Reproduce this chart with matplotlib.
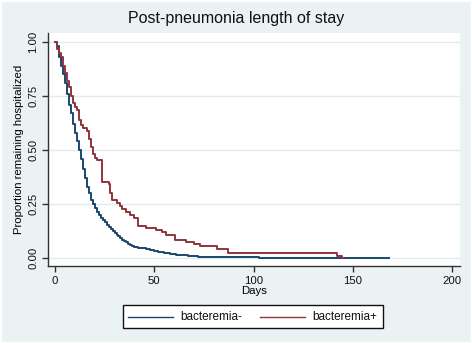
import matplotlib
matplotlib.use("Agg")
import matplotlib.pyplot as plt
from matplotlib.patches import Rectangle
from matplotlib.lines import Line2D

# Kaplan-Meier step data (day, survival)
neg_days = [0, 1, 2, 3, 4, 5, 6, 7, 8, 9, 10, 11, 12, 13, 14, 15, 16, 17, 18, 19,
            20, 21, 22, 23, 24, 25, 26, 27, 28, 29, 30, 31, 32, 33, 34, 35, 36, 37,
            38, 39, 40, 42, 44, 46, 48, 50, 52, 55, 58, 61, 64, 67, 72, 103, 168]
neg_surv = [1.0, 0.98, 0.93, 0.89, 0.85, 0.81, 0.76, 0.71, 0.67, 0.62, 0.58, 0.54,
            0.50, 0.46, 0.41, 0.37, 0.33, 0.30, 0.27, 0.25, 0.23, 0.215, 0.20, 0.185,
            0.175, 0.165, 0.155, 0.145, 0.135, 0.125, 0.115, 0.108, 0.10, 0.092,
            0.085, 0.078, 0.072, 0.066, 0.060, 0.056, 0.052, 0.048, 0.045, 0.040,
            0.036, 0.032, 0.028, 0.024, 0.020, 0.016, 0.012, 0.008, 0.005, 0.0, 0.0]

pos_days = [0, 1, 2, 3, 4, 5, 6, 7, 8, 9, 10, 11, 12, 13, 14, 16, 17, 18, 19, 20,
            21, 23.5, 27, 27.8, 28.6, 31, 32.8, 34, 36, 38, 40, 42, 46, 51, 54, 56,
            60.6, 66, 70, 73, 81.6, 87, 142, 144.7, 145]
pos_surv = [1.0, 0.97, 0.95, 0.93, 0.89, 0.855, 0.82, 0.79, 0.75, 0.72, 0.70, 0.685,
            0.64, 0.615, 0.60, 0.59, 0.55, 0.515, 0.48, 0.465, 0.455, 0.353, 0.345,
            0.30, 0.27, 0.255, 0.24, 0.227, 0.215, 0.20, 0.185, 0.150, 0.139, 0.13,
            0.12, 0.106, 0.083, 0.075, 0.066, 0.057, 0.042, 0.022, 0.011, 0.0, 0.0]

x_ticks = [0, 50, 100, 150, 200]
y_ticks = [0.0, 0.25, 0.5, 0.75, 1.0]
y_ticklabels = ["0.00", "0.25", "0.50", "0.75", "1.00"]
labels = ["bacteremia-", "bacteremia+"]
colors = ['#1a476f', '#90353b']

plt.rcParams['font.family'] = ['Liberation Sans', 'DejaVu Sans']
BG = '#eaf2f3'
W, H = 472, 343
fig = plt.figure(figsize=(W / 100, H / 100), dpi=100, facecolor=BG)
fig.patches.append(Rectangle((0, 0), 1, 1, transform=fig.transFigure,
                             fill=False, edgecolor='white', lw=2.5, zorder=10))

ax = fig.add_axes([48 / W, 77 / H, 412 / W, 233 / H])
ax.set_facecolor('white')
for y in y_ticks:
    ax.axhline(y, color='#e1ecef', lw=1.0, zorder=0)

ax.step(neg_days, neg_surv, where='post', color=colors[0], lw=1.4)
ax.step(pos_days, pos_surv, where='post', color=colors[1], lw=1.4)

ax.set_xlim(-3.5, 204)
ax.set_ylim(-0.037, 1.042)
ax.set_xticks(x_ticks)
ax.set_yticks(y_ticks)
ax.set_yticklabels(y_ticklabels, rotation=90, va='center')
ax.tick_params(axis='both', direction='out', length=4, width=1, color='#333333',
               labelsize=8.2, labelcolor='#111111', pad=3)
for s in ['top', 'right']:
    ax.spines[s].set_visible(False)
for s in ['left', 'bottom']:
    ax.spines[s].set_color('#333333')
    ax.spines[s].set_linewidth(1.0)

ax.set_xlabel('Days', fontsize=8.2, labelpad=0.5)
ax.set_ylabel('Proportion remaining hospitalized', fontsize=8.2, labelpad=3)
fig.text(0.5, 1 - 18 / H, 'Post-pneumonia length of stay', ha='center', va='center',
         fontsize=11.5, color='#111111')

# legend box
fig.patches.append(Rectangle((123 / W, 15 / H), 260 / W, 23 / H, transform=fig.transFigure,
                             facecolor='white', edgecolor='#111111', lw=1.0))
ly = (343 - 316.5) / H
for (x0, x1, tx), c, lab in zip([(128, 173, 180), (260, 305, 312)], colors, labels):
    fig.add_artist(Line2D([x0 / W, x1 / W], [ly, ly], transform=fig.transFigure,
                          color=c, lw=1.0))
    fig.text(tx / W, ly, lab, ha='left', va='center', fontsize=8.5, color='#111111')

fig.savefig('out.png', dpi=100, facecolor=BG)
